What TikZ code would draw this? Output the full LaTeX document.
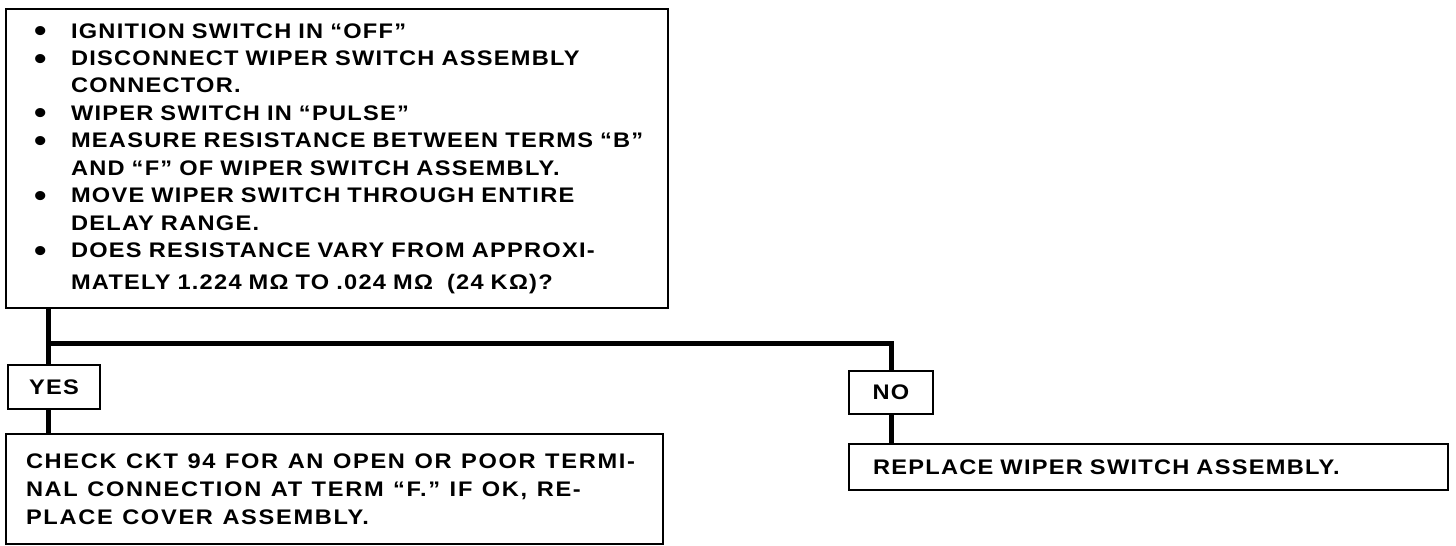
\documentclass[tikz,border=0pt]{standalone}
\usepackage{fontspec}
\usepackage{graphicx}
\setmainfont{Liberation Sans}[FakeStretch=1.12, LetterSpace=6]
\usetikzlibrary{positioning}
\tikzset{chkbox/.style={draw, line width=0.5mm, anchor=north west, inner ysep=0pt, align=left,
    font=\bfseries\fontsize{15pt}{19.5pt}\selectfont},
  link/.style={line width=1.25mm}}
\newcommand{\bul}{\smash{\raisebox{-0.17em}{\scalebox{1.5}{\textbullet}}}}
\newcommand{\widefont}{\bfseries\fontsize{15pt}{19.9pt}\selectfont\addfontfeatures{LetterSpace=8}}

\begin{document}
\begin{tikzpicture}[x=0.25mm, y=-0.25mm]
\useasboundingbox (0,0) rectangle (1456,546);
% question box
\node[chkbox, inner xsep=7mm, text width=151.5mm, minimum height=74.75mm] (quest) at (5,8)
  {\begin{tabular}{@{}p{9.25mm}@{}l@{}}
   \bul & IGNITION SWITCH IN “OFF” \\
   \bul & DISCONNECT WIPER SWITCH ASSEMBLY \\
        & CONNECTOR. \\
   \bul & WIPER SWITCH IN “PULSE” \\
   \bul & MEASURE RESISTANCE BETWEEN TERMS “B” \\
        & AND “F” OF WIPER SWITCH ASSEMBLY. \\
   \bul & MOVE WIPER SWITCH THROUGH ENTIRE \\
        & DELAY RANGE. \\
   \bul & DOES RESISTANCE VARY FROM APPROXI- \\[1.25mm]
        & MATELY 1.224 MΩ TO .024 MΩ\ \ (24 KΩ)?
   \end{tabular}};
% answers
\node[chkbox, inner xsep=0pt, minimum width=23mm, minimum height=11mm, align=center] (yes) at (7,364) {YES};
\node[chkbox, inner xsep=0pt, minimum width=21mm, minimum height=10.75mm, align=center] (no) at (848,370) {NO};
\node[chkbox, inner xsep=5mm, text width=154.25mm, minimum height=27.5mm, font=\widefont] (check) at (5,433)
  {\spaceskip=0.45em\relax
   CHECK CKT 94 FOR AN OPEN OR POOR TERMI-\\
   NAL CONNECTION AT TERM “F.” IF OK, RE-\\
   PLACE COVER ASSEMBLY.};
\node[chkbox, inner xsep=6mm, text width=137.75mm, minimum height=11.5mm] (replace) at (848,443)
  {REPLACE WIPER SWITCH ASSEMBLY.};
% connectors
\coordinate (trunk) at (48,343);
\draw[link] (quest.south -| trunk) -- (yes.north -| trunk);
\draw[link] (trunk) -| (no.north);
\draw[link] (yes.south -| trunk) -- (check.north -| trunk);
\draw[link] (no.south) -- (replace.north -| no.south);
\end{tikzpicture}
\end{document}
